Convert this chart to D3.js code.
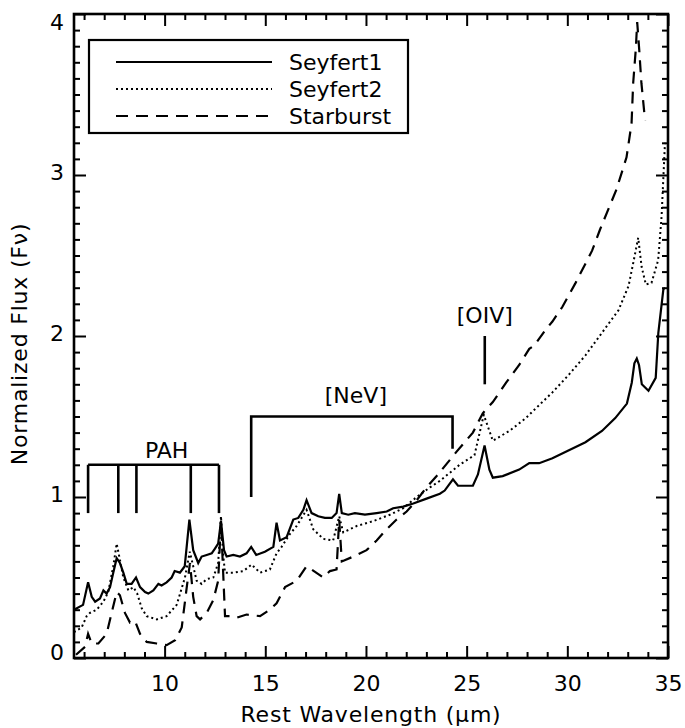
<!DOCTYPE html>
<html>
<head>
<meta charset="utf-8">
<script src="https://cdn.jsdelivr.net/npm/d3@7"></script>
<style>
  body { margin: 0; background: #fff; }
  svg text { font-family: "DejaVu Sans", sans-serif; fill: #000; }
</style>
</head>
<body>
<div id="chart"></div>
<script>
const WIDTH = 685;
const HEIGHT = 728;
const MARGINS = { TOP: 14, LEFT: 74, BOTTOM: 70, RIGHT: 17 };
const FONT_SIZE = 22;

// Seyfert 1 (solid)
const sy1Wave = [5.5, 5.95, 6.2, 6.38, 6.55, 6.79, 6.96, 7.12, 7.29, 7.45, 7.62, 7.78, 7.95, 8.12, 8.36, 8.58, 8.78, 9.03, 9.19, 9.44, 9.69, 9.85, 10.1, 10.35, 10.5, 10.76, 11.0, 11.23, 11.42, 11.67, 11.84, 12.09, 12.34, 12.5, 12.66, 12.8, 12.95, 13.08, 13.41, 13.74, 14.07, 14.3, 14.55, 14.98, 15.4, 15.56, 15.73, 16.06, 16.39, 16.64, 16.89, 17.05, 17.3, 17.63, 17.96, 18.3, 18.54, 18.67, 18.8, 19.12, 19.45, 19.95, 20.53, 21.03, 21.35, 21.85, 22.35, 23.01, 23.67, 23.91, 24.32, 24.57, 25.31, 25.56, 25.89, 26.13, 26.3, 26.79, 27.61, 28.11, 28.35, 28.6, 29.26, 30.08, 30.9, 31.72, 32.38, 32.96, 33.2, 33.33, 33.45, 33.56, 33.7, 34.03, 34.39, 34.52, 34.77, 34.85];
const sy1Flux = [0.30, 0.33, 0.47, 0.38, 0.35, 0.37, 0.42, 0.40, 0.44, 0.53, 0.62, 0.59, 0.53, 0.46, 0.46, 0.50, 0.44, 0.41, 0.40, 0.42, 0.46, 0.45, 0.47, 0.50, 0.54, 0.53, 0.57, 0.86, 0.67, 0.59, 0.63, 0.64, 0.65, 0.68, 0.71, 0.85, 0.67, 0.63, 0.64, 0.63, 0.65, 0.69, 0.64, 0.66, 0.69, 0.84, 0.73, 0.75, 0.86, 0.87, 0.92, 0.98, 0.90, 0.88, 0.87, 0.87, 0.90, 1.02, 0.90, 0.89, 0.90, 0.89, 0.90, 0.91, 0.93, 0.94, 0.96, 0.99, 1.02, 1.04, 1.11, 1.07, 1.07, 1.14, 1.32, 1.17, 1.12, 1.13, 1.17, 1.21, 1.21, 1.21, 1.24, 1.29, 1.34, 1.41, 1.49, 1.58, 1.71, 1.83, 1.86, 1.82, 1.70, 1.66, 1.74, 2.02, 2.29, 2.30];

// Seyfert 2 (dotted)
const sy2Wave = [5.5, 5.88, 6.13, 6.29, 6.63, 6.96, 7.2, 7.45, 7.62, 7.78, 7.95, 8.2, 8.45, 8.64, 8.86, 9.11, 9.61, 10.1, 10.6, 11.01, 11.25, 11.42, 11.59, 11.84, 12.09, 12.42, 12.66, 12.8, 12.9, 13.0, 13.41, 13.91, 14.32, 14.74, 15.23, 15.56, 15.81, 16.22, 16.56, 17.05, 17.38, 17.88, 18.37, 18.67, 18.87, 19.54, 20.36, 21.19, 21.85, 22.52, 23.18, 23.67, 24.65, 25.39, 25.85, 26.3, 27.12, 27.94, 28.43, 29.26, 30.08, 30.9, 31.72, 32.54, 33.04, 33.3, 33.52, 33.69, 33.9, 34.18, 34.51, 34.68, 34.85];
const sy2Flux = [0.16, 0.19, 0.26, 0.28, 0.30, 0.35, 0.41, 0.57, 0.71, 0.61, 0.50, 0.42, 0.44, 0.40, 0.31, 0.26, 0.24, 0.26, 0.33, 0.50, 0.66, 0.57, 0.48, 0.46, 0.49, 0.50, 0.59, 0.88, 0.65, 0.53, 0.53, 0.54, 0.58, 0.53, 0.55, 0.65, 0.69, 0.77, 0.82, 0.92, 0.80, 0.74, 0.73, 0.88, 0.78, 0.82, 0.85, 0.89, 0.93, 1.00, 1.06, 1.10, 1.20, 1.26, 1.51, 1.35, 1.41, 1.49, 1.55, 1.65, 1.76, 1.88, 2.02, 2.16, 2.31, 2.47, 2.61, 2.43, 2.32, 2.33, 2.47, 2.74, 3.20];

// Starburst (dashed)
const sbWave = [5.6, 6.05, 6.2, 6.38, 6.71, 7.12, 7.37, 7.62, 7.78, 8.03, 8.28, 8.53, 8.78, 9.11, 9.61, 10.1, 10.52, 10.85, 11.1, 11.26, 11.42, 11.59, 11.76, 12.09, 12.42, 12.66, 12.8, 13.0, 13.25, 13.58, 14.07, 14.74, 15.23, 15.56, 15.98, 16.56, 17.05, 17.3, 17.88, 18.21, 18.54, 18.67, 18.8, 19.37, 20.03, 20.53, 21.03, 21.52, 22.02, 22.52, 23.01, 23.51, 24.49, 25.31, 25.8, 26.3, 26.96, 27.61, 28.11, 28.35, 28.93, 29.26, 29.75, 30.41, 31.23, 31.62, 32.44, 32.94, 33.19, 33.27, 33.4, 33.47, 33.57, 33.68, 33.86];
const sbFlux = [0.02, 0.07, 0.15, 0.09, 0.09, 0.15, 0.28, 0.41, 0.39, 0.28, 0.22, 0.23, 0.15, 0.10, 0.09, 0.08, 0.11, 0.19, 0.44, 0.59, 0.38, 0.26, 0.24, 0.28, 0.36, 0.48, 0.85, 0.26, 0.26, 0.25, 0.27, 0.26, 0.30, 0.34, 0.44, 0.48, 0.57, 0.55, 0.50, 0.54, 0.55, 0.86, 0.60, 0.63, 0.67, 0.73, 0.80, 0.86, 0.91, 0.98, 1.06, 1.13, 1.28, 1.40, 1.52, 1.59, 1.71, 1.82, 1.92, 1.94, 2.04, 2.09, 2.18, 2.33, 2.53, 2.66, 2.91, 3.11, 3.32, 3.57, 3.78, 3.95, 3.78, 3.57, 3.34];

const seriesNames = ['Seyfert1', 'Seyfert2', 'Starburst'];

// axis ticks
const xTicks = [10, 15, 20, 25, 30, 35];
const yTicks = [0, 1, 2, 3, 4];

// line identifications
const pahLines = [6.2, 7.7, 8.6, 11.3, 12.7];
const nevLines = [14.3, 24.3];
const oivLine = 25.9;

const w = WIDTH - MARGINS.LEFT - MARGINS.RIGHT;
const h = HEIGHT - MARGINS.TOP - MARGINS.BOTTOM;

let svg = d3.select('#chart')
    .append('svg')
    .attr('width', WIDTH)
    .attr('height', HEIGHT)
    .append('g')
    .attr('transform', `translate(${MARGINS.LEFT},${MARGINS.TOP})`);

let x = d3.scaleLinear().domain([5.5, 35]).range([0, w]);
let y = d3.scaleLinear().domain([0, 4]).range([h, 0]);

const xMinor = d3.range(6, 35, 1).filter(v => v % 5 !== 0);
const yMinor = d3.range(0, 40, 1).map(v => v / 10).filter((v, i) => i % 10 !== 0);

function styleAxis(g) {
    g.select('.domain').remove();
    g.selectAll('line').attr('stroke', '#000').attr('stroke-width', 2);
    g.selectAll('text').style('font-size', FONT_SIZE + 'px').attr('fill', '#000');
}

// bottom
svg.append('g').attr('transform', `translate(0,${h})`)
    .call(d3.axisBottom(x).tickValues(xTicks).tickSize(-12).tickSizeOuter(0).tickPadding(22).tickFormat(d3.format('d')))
    .call(styleAxis)
    .call(g => g.selectAll('text').attr('dy', '0.5em'));
svg.append('g').attr('transform', `translate(0,${h})`)
    .call(d3.axisBottom(x).tickValues(xMinor).tickSize(-6).tickSizeOuter(0).tickFormat(''))
    .call(styleAxis);
// top
svg.append('g')
    .call(d3.axisTop(x).tickValues(xTicks).tickSize(-12).tickSizeOuter(0).tickFormat(''))
    .call(styleAxis);
svg.append('g')
    .call(d3.axisTop(x).tickValues(xMinor).tickSize(-6).tickSizeOuter(0).tickFormat(''))
    .call(styleAxis);
// left (end labels sit a little inside the range, as in the original)
svg.append('g')
    .call(d3.axisLeft(y).tickValues(yTicks).tickSize(-12).tickSizeOuter(0).tickPadding(10).tickFormat(d3.format('d')))
    .call(styleAxis)
    .call(g => g.selectAll('.tick text')
        .attr('y', d => d === 4 ? 8 : d === 0 ? -6 : -3));
svg.append('g')
    .call(d3.axisLeft(y).tickValues(yMinor).tickSize(-6).tickSizeOuter(0).tickFormat(''))
    .call(styleAxis);
// right
svg.append('g').attr('transform', `translate(${w},0)`)
    .call(d3.axisRight(y).tickValues(yTicks).tickSize(-12).tickSizeOuter(0).tickFormat(''))
    .call(styleAxis);
svg.append('g').attr('transform', `translate(${w},0)`)
    .call(d3.axisRight(y).tickValues(yMinor).tickSize(-6).tickSizeOuter(0).tickFormat(''))
    .call(styleAxis);

// frame
svg.append('rect')
    .attr('width', w).attr('height', h)
    .attr('fill', 'none').attr('stroke', '#000').attr('stroke-width', 2.6);

// axis titles
svg.append('text')
    .attr('x', w / 2).attr('y', h + 64)
    .attr('text-anchor', 'middle')
    .style('font-size', FONT_SIZE + 'px')
    .style('letter-spacing', '0.8px')
    .text('Rest Wavelength (μm)');
svg.append('text')
    .attr('transform', `translate(${-47},${h / 2 + 8}) rotate(-90)`)
    .attr('text-anchor', 'middle')
    .style('font-size', FONT_SIZE + 'px')
    .style('letter-spacing', '0.8px')
    .text('Normalized Flux (Fν)');

// spectra
const line = d3.line().x(d => x(d[0])).y(d => y(d[1]));
const STYLES = {
    Seyfert1: { dash: null, width: 2.2 },
    Seyfert2: { dash: '2,3', width: 2 },
    Starburst: { dash: '12,8', width: 2.2 }
};
const seriesData = {
    Seyfert1: d3.zip(sy1Wave, sy1Flux),
    Seyfert2: d3.zip(sy2Wave, sy2Flux),
    Starburst: d3.zip(sbWave, sbFlux)
};
seriesNames.forEach(name => {
    svg.append('path')
        .datum(seriesData[name])
        .attr('d', line)
        .attr('fill', 'none')
        .attr('stroke', '#000')
        .attr('stroke-width', STYLES[name].width)
        .attr('stroke-dasharray', STYLES[name].dash);
});

// annotations
let ann = svg.append('g').attr('stroke', '#000').attr('stroke-width', 2.6).attr('fill', 'none');
ann.append('line')
    .attr('x1', x(pahLines[0])).attr('x2', x(pahLines[pahLines.length - 1]))
    .attr('y1', y(1.2)).attr('y2', y(1.2));
pahLines.forEach(l => {
    ann.append('line').attr('x1', x(l)).attr('x2', x(l)).attr('y1', y(1.2)).attr('y2', y(0.9));
});
svg.append('text')
    .attr('x', x(10.1)).attr('y', y(1.29)).attr('dy', '0.35em')
    .attr('text-anchor', 'middle').style('font-size', FONT_SIZE + 'px')
    .text('PAH');

ann.append('path')
    .attr('d', `M${x(nevLines[0])},${y(1.0)}V${y(1.5)}H${x(nevLines[1])}V${y(1.3)}`);
svg.append('text')
    .attr('x', x(19.5)).attr('y', y(1.63)).attr('dy', '0.35em')
    .attr('text-anchor', 'middle').style('font-size', FONT_SIZE + 'px')
    .text('[NeV]');

ann.append('line')
    .attr('x1', x(oivLine)).attr('x2', x(oivLine))
    .attr('y1', y(2.0)).attr('y2', y(1.7));
svg.append('text')
    .attr('x', x(oivLine)).attr('y', y(2.13)).attr('dy', '0.35em')
    .attr('text-anchor', 'middle').style('font-size', FONT_SIZE + 'px')
    .text('[OIV]');

// legend
let legend = svg.append('g').attr('transform', `translate(${89 - MARGINS.LEFT},${40 - MARGINS.TOP})`);
legend.append('rect')
    .attr('width', 319).attr('height', 93)
    .attr('fill', '#fff').attr('stroke', '#000').attr('stroke-width', 2.2);
seriesNames.forEach((name, i) => {
    let ly = 22 + i * 27;
    legend.append('line')
        .attr('x1', 27).attr('x2', 183).attr('y1', ly).attr('y2', ly)
        .attr('stroke', '#000')
        .attr('stroke-width', STYLES[name].width)
        .attr('stroke-dasharray', STYLES[name].dash);
    legend.append('text')
        .attr('x', 200).attr('y', ly).attr('dy', '0.35em')
        .style('font-size', FONT_SIZE + 'px')
        .text(name);
});
</script>
</body>
</html>
